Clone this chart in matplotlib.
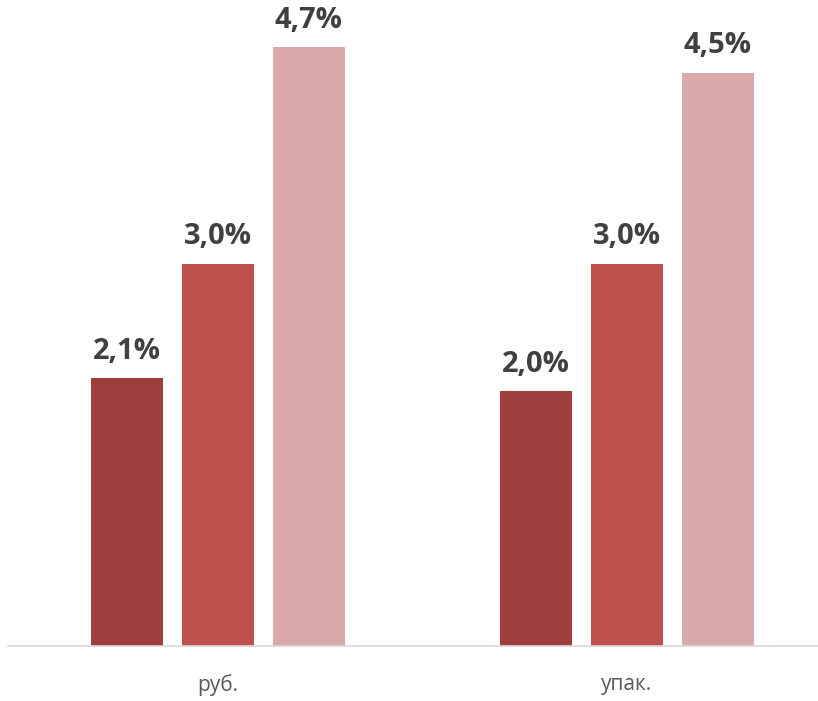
import numpy as np
import matplotlib
matplotlib.use("Agg")
import matplotlib.pyplot as plt

plt.rcParams['font.family'] = ['Open Sans', 'DejaVu Sans']

categories = ['руб.', 'упак.']
series_a = [2.1, 2.0]
series_b = [3.0, 3.0]
series_c = [4.7, 4.5]
colors = ['#9E3F3E', '#C0504D', '#DAA9A9']

fig = plt.figure(figsize=(8.18, 7.01), dpi=100)
ax = fig.add_axes([8 / 818, 1 - 646 / 701, 810 / 818, 646 / 701])

x = np.arange(len(categories))
width = 0.176
step = 0.2225

for i, (vals, col) in enumerate(zip([series_a, series_b, series_c], colors)):
    bars = ax.bar(x + (i - 1) * step, vals, width, color=col)
    for b, v in zip(bars, vals):
        ax.annotate(f'{v:.1f}%'.replace('.', ','),
                    (b.get_x() + b.get_width() / 2, v),
                    xytext=(0, 9), textcoords='offset points',
                    ha='center', va='bottom', fontsize=21,
                    fontweight='bold', color='#404040')

ax.set_xlim(-0.513, 1.467)
ax.set_ylim(0, 5.07)
ax.set_yticks([])
ax.set_xticks(x)
ax.set_xticklabels(categories, fontsize=15, color='#595959')
ax.tick_params(axis='x', length=0, pad=20)
for s in ['top', 'right', 'left']:
    ax.spines[s].set_visible(False)
ax.spines['bottom'].set_color('#D9D9D9')
ax.spines['bottom'].set_linewidth(1.2)

fig.savefig('out.png', dpi=100)
